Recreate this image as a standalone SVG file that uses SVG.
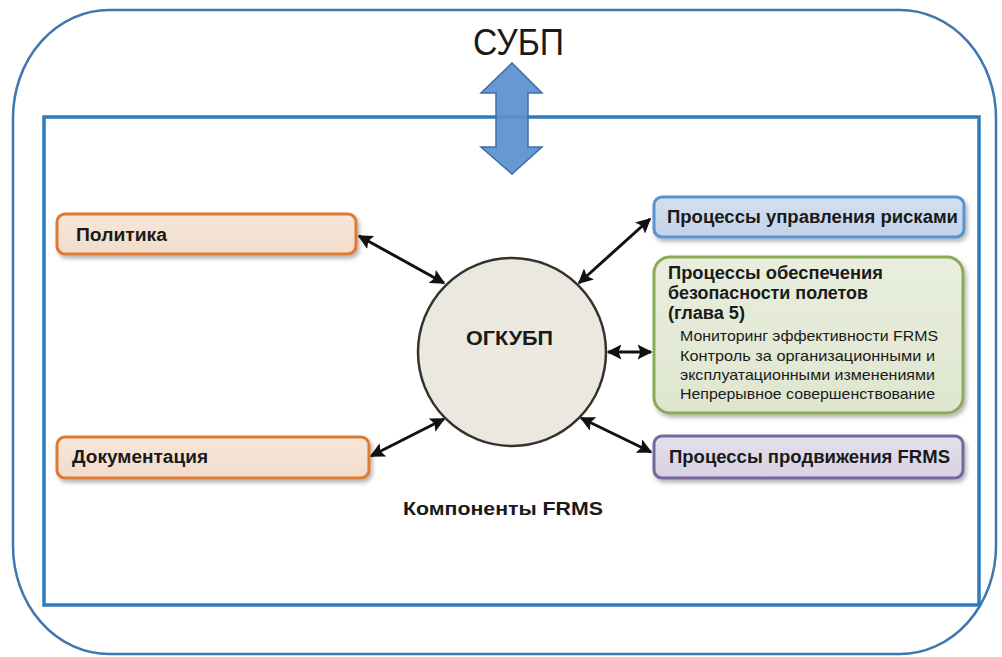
<svg xmlns="http://www.w3.org/2000/svg" width="1002" height="657" viewBox="0 0 1002 657">
  <defs>
    <filter id="sh" x="-10%" y="-20%" width="120%" height="150%">
      <feDropShadow dx="2" dy="3" stdDeviation="2" flood-color="#000" flood-opacity="0.3"/>
    </filter>
    <marker id="ah" viewBox="0 0 10 10" refX="9" refY="5" markerWidth="5" markerHeight="5" orient="auto-start-reverse" markerUnits="strokeWidth">
      <path d="M0,0 L10,5 L0,10 L2,5 Z" fill="#111"/>
    </marker>
    <linearGradient id="gO" x1="0" y1="0" x2="0" y2="1">
      <stop offset="0" stop-color="#f7e7da"/>
      <stop offset="1" stop-color="#f1dccb"/>
    </linearGradient>
    <linearGradient id="gB" x1="0" y1="0" x2="0" y2="1">
      <stop offset="0" stop-color="#d3e0ef"/>
      <stop offset="1" stop-color="#c2d3e8"/>
    </linearGradient>
    <linearGradient id="gG" x1="0" y1="0" x2="0" y2="1">
      <stop offset="0" stop-color="#e9eede"/>
      <stop offset="1" stop-color="#dfe6cf"/>
    </linearGradient>
    <linearGradient id="gP" x1="0" y1="0" x2="0" y2="1">
      <stop offset="0" stop-color="#e4e0ec"/>
      <stop offset="1" stop-color="#d7d1e4"/>
    </linearGradient>
  </defs>
  <style>
    .t { font-family: "Liberation Sans", Arial, sans-serif; fill: #1a1a1a; }
    .b { font-weight: bold; }
    .box { stroke-width: 3; filter: url(#sh); }
    .con { stroke: #111; stroke-width: 3; fill: none; marker-start: url(#ah); marker-end: url(#ah); }
  </style>
  <rect width="1002" height="657" fill="#fff"/>

  <g id="sms">
    <rect x="13" y="10" width="983" height="644" rx="96" ry="108" fill="none" stroke="#3f77b0" stroke-width="2.5"/>
    <text class="t" x="473" y="55" font-size="36" textLength="91" lengthAdjust="spacingAndGlyphs" fill="#222">СУБП</text>
  </g>

  <g id="frms">
    <rect x="44" y="117" width="935" height="488" fill="none" stroke="#2e7bbf" stroke-width="3.5"/>
    <text class="t b" x="403" y="515" font-size="18.5" textLength="200" lengthAdjust="spacingAndGlyphs">Компоненты FRMS</text>
  </g>

  <g id="link-arrow">
    <path d="M512,63 L542,93 L528,93 L528,147 L542,147 L512,174 L481,147 L496,147 L496,93 L481,93 Z" fill="#5b8fcd" fill-opacity="0.92" stroke="#3d6da6" stroke-width="1.5"/>
  </g>

  <g id="connectors">
    <line class="con" x1="359" y1="236" x2="444" y2="283"/>
    <line class="con" x1="371" y1="456" x2="444" y2="419"/>
    <line class="con" x1="650" y1="219" x2="579" y2="283"/>
    <line class="con" x1="608" y1="352" x2="651" y2="352"/>
    <line class="con" x1="581" y1="418" x2="651" y2="452"/>
  </g>

  <g id="ogkubp">
    <circle cx="512" cy="352" r="94" fill="#ebe8df" stroke="#33332b" stroke-width="2.5"/>
    <text class="t b" x="466" y="345" font-size="19.5" textLength="87" lengthAdjust="spacingAndGlyphs">ОГКУБП</text>
  </g>

  <g id="policy">
    <rect class="box" x="57" y="214" width="299" height="40" rx="8" fill="url(#gO)" stroke="#df7a30"/>
    <text class="t b" x="76" y="241" font-size="18" textLength="91" lengthAdjust="spacingAndGlyphs">Политика</text>
  </g>

  <g id="docs">
    <rect class="box" x="57" y="437" width="312" height="41" rx="8" fill="url(#gO)" stroke="#df7a30"/>
    <text class="t b" x="72" y="463" font-size="18" textLength="136" lengthAdjust="spacingAndGlyphs">Документация</text>
  </g>

  <g id="risk">
    <rect class="box" x="654" y="197" width="310" height="40" rx="8" fill="url(#gB)" stroke="#5a92d2"/>
    <text class="t b" x="667" y="223" font-size="18" textLength="291" lengthAdjust="spacingAndGlyphs">Процессы управления рисками</text>
  </g>

  <g id="assurance">
    <rect class="box" x="654" y="257" width="309" height="156" rx="16" fill="url(#gG)" stroke="#8aab52"/>
    <text class="t b" font-size="18">
      <tspan x="668" y="279" textLength="215" lengthAdjust="spacingAndGlyphs">Процессы обеспечения</tspan>
      <tspan x="668" y="299" textLength="200" lengthAdjust="spacingAndGlyphs">безопасности полетов</tspan>
      <tspan x="668" y="319" textLength="77" lengthAdjust="spacingAndGlyphs">(глава 5)</tspan>
    </text>
    <text class="t" font-size="14.5">
      <tspan x="680" y="341" textLength="258" lengthAdjust="spacingAndGlyphs">Мониторинг эффективности FRMS</tspan>
      <tspan x="680" y="361" textLength="255" lengthAdjust="spacingAndGlyphs">Контроль за организационными и</tspan>
      <tspan x="680" y="380" textLength="255" lengthAdjust="spacingAndGlyphs">эксплуатационными изменениями</tspan>
      <tspan x="680" y="399" textLength="255" lengthAdjust="spacingAndGlyphs">Непрерывное совершенствование</tspan>
    </text>
  </g>

  <g id="promotion">
    <rect class="box" x="654" y="436" width="309" height="42" rx="8" fill="url(#gP)" stroke="#76679d"/>
    <text class="t b" x="669" y="463" font-size="18" textLength="281" lengthAdjust="spacingAndGlyphs">Процессы продвижения FRMS</text>
  </g>
</svg>
